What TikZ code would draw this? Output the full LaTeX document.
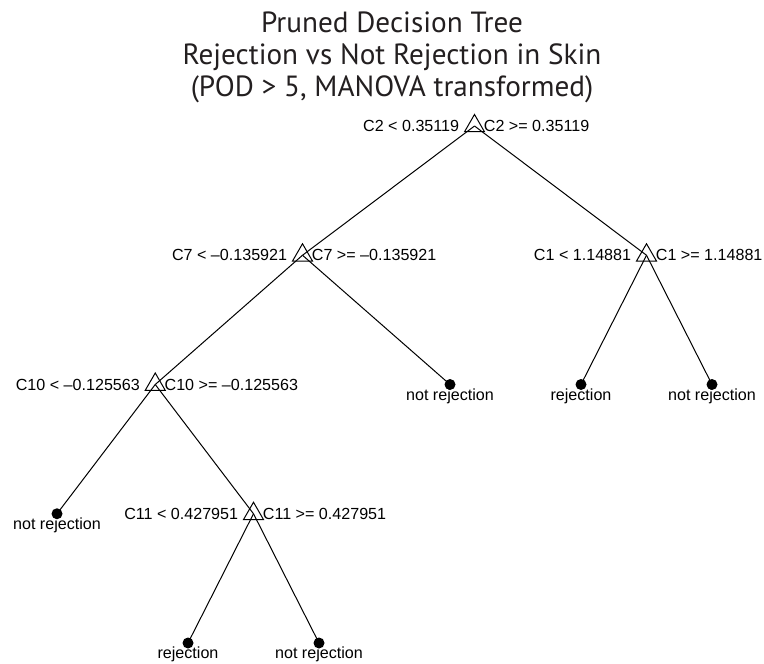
\documentclass[tikz,border=0pt]{standalone}
\usepackage{fontspec}
\setmainfont{Liberation Sans}
\newfontfamily\titlefont{PT Sans}
\usetikzlibrary{shapes.geometric, calc}
\definecolor{TitleInk}{RGB}{35,31,32}

\begin{document}
\begin{tikzpicture}[x=0.5pt, y=-0.5pt, font=\fontsize{8.05}{9.5}\selectfont,
	split/.style={regular polygon, regular polygon sides=3, draw, line width=0.5pt, minimum size=11.5pt, inner sep=0pt, outer sep=0pt},
	leaf/.style={circle, fill=black, minimum size=5.5pt, inner sep=0pt},
	branch/.style={line width=0.5pt},
	ruleL/.style={anchor=base east, inner sep=0pt},
	ruleR/.style={anchor=base west, inner sep=0pt},
	cls/.style={anchor=base, inner sep=0pt},
	ttl/.style={anchor=base, inner sep=0pt, text=TitleInk, font=\titlefont\fontsize{14.6}{16}\selectfont}]

	\useasboundingbox (0,0) rectangle (764,663);

	\node[ttl] (t1) at (392,33) {Pruned Decision Tree};
	\node[ttl] (t2) at (392,65) {Rejection vs Not Rejection in Skin};
	\node[ttl] (t3) at (392,97) {(POD > 5, MANOVA transformed)};

	% nodos de corte
	\node[split] (root) at (474.5,126) {};
	\node[split] (c7)   at (302.5,255.25) {};
	\node[split] (c1)   at (646.5,255.25) {};
	\node[split] (c10)  at (155.25,384.5) {};
	\node[split] (c11)  at (253.5,513.75) {};

	% hojas
	\node[leaf] (l1) at (57,513.75) {};
	\node[leaf] (l2) at (188,643) {};
	\node[leaf] (l3) at (319,643) {};
	\node[leaf] (l4) at (450,384.5) {};
	\node[leaf] (l5) at (581,384.5) {};
	\node[leaf] (l6) at (712,384.5) {};

	\foreach \a/\b in {root/c7, root/c1, c7/c10, c7/l4, c1/l5, c1/l6, c10/l1, c10/c11, c11/l2, c11/l3}
		\draw[branch] (\a.center) -- (\b.center);

	\node[ruleL] (root-a) at ($(root)+(-15,5.5)$) {C2 < 0.35119};
	\node[ruleR] (root-b) at ($(root)+(9,5.5)$) {C2 >= 0.35119};
	\node[ruleL] (c7-a) at ($(c7)+(-15,5.5)$) {C7 < –0.135921};
	\node[ruleR] (c7-b) at ($(c7)+(9,5.5)$) {C7 >= –0.135921};
	\node[ruleL] (c1-a) at ($(c1)+(-15,5.5)$) {C1 < 1.14881};
	\node[ruleR] (c1-b) at ($(c1)+(9,5.5)$) {C1 >= 1.14881};
	\node[ruleL] (c10-a) at ($(c10)+(-15,5.5)$) {C10 < –0.125563};
	\node[ruleR] (c10-b) at ($(c10)+(9,5.5)$) {C10 >= –0.125563};
	\node[ruleL] (c11-a) at ($(c11)+(-15,5.5)$) {C11 < 0.427951};
	\node[ruleR] (c11-b) at ($(c11)+(9,5.5)$) {C11 >= 0.427951};

	\foreach \n/\txt in {l1/not rejection, l2/rejection, l3/not rejection, l4/not rejection, l5/rejection, l6/not rejection}
		\node[cls] (\n-txt) at ($(\n)+(0,15.5)$) {\txt};
\end{tikzpicture}
\end{document}
